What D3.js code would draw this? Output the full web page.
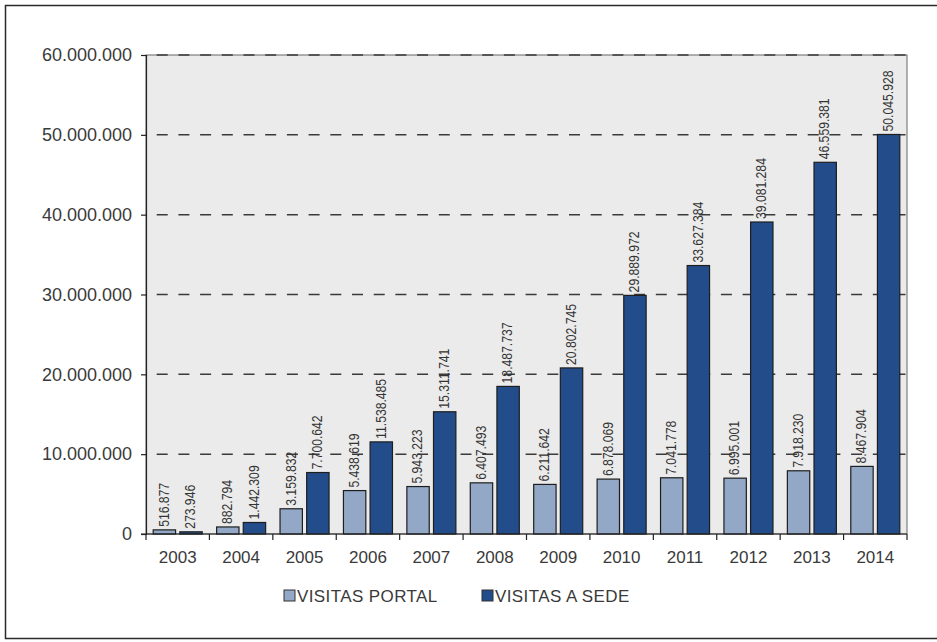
<!DOCTYPE html>
<html><head><meta charset="utf-8">
<script src="https://cdn.jsdelivr.net/npm/d3@7"></script>
<style>html,body{margin:0;padding:0;background:#fff;}svg{display:block;font-family:"Liberation Sans",Arial,sans-serif;}</style>
</head><body>
<svg id="chart" width="937" height="642"></svg>
<script>
const years = ["2003","2004","2005","2006","2007","2008","2009","2010","2011","2012","2013","2014"];
const seriesNames = ["VISITAS PORTAL","VISITAS A SEDE"];
const visitasPortal = [516877, 882794, 3159832, 5438619, 5943223, 6407493, 6211642, 6878069, 7041778, 6995001, 7918230, 8467904];
const visitasSede = [273946, 1442309, 7700642, 11538485, 15311741, 18487737, 20802745, 29889972, 33627384, 39081284, 46559381, 50045928];
const yTicks = [0, 10000000, 20000000, 30000000, 40000000, 50000000, 60000000];
const colors = ["#93a7c6", "#234c8a"];

const loc = d3.formatLocale({decimal: ",", thousands: ".", grouping: [3], currency: ["", ""]});
const fmt = loc.format(",d");

const svg = d3.select("#chart");
const L = 146, R = 907, T = 55, B = 534;

svg.append("rect").attr("x", 5.5).attr("y", 5.5).attr("width", 940).attr("height", 633)
  .attr("fill", "none").attr("stroke", "#2a2a2a").attr("stroke-width", 1.5);

const x0 = d3.scaleBand().domain(years).range([L, R]).padding(0);
const x1 = d3.scaleBand().domain(seriesNames).range([7.2, x0.bandwidth() - 7.2]).paddingInner(0.16).paddingOuter(0);
const y = d3.scaleLinear().domain([0, 60000000]).range([B, T]);

// plot background
svg.append("rect").attr("x", L).attr("y", T).attr("width", R - L).attr("height", B - T)
  .attr("fill", "#ebebeb").attr("stroke", "#666").attr("stroke-width", 1);

// gridlines
svg.append("g").selectAll("line").data(yTicks.filter(d => d > 0)).join("line")
  .attr("x1", L).attr("x2", R).attr("y1", d => y(d)).attr("y2", d => y(d))
  .attr("stroke", "#3a3a3a").attr("stroke-width", 1.5)
  .attr("stroke-dasharray", "11,10.7").attr("stroke-dashoffset", 11);

// bars
const data = years.map((yr, i) => ({year: yr, vals: [visitasPortal[i], visitasSede[i]]}));
const groups = svg.append("g").selectAll("g").data(data).join("g")
  .attr("transform", d => `translate(${x0(d.year)},0)`);
groups.selectAll("rect").data(d => d.vals.map((v, j) => ({name: seriesNames[j], v, j}))).join("rect")
  .attr("x", d => x1(d.name)).attr("width", x1.bandwidth())
  .attr("y", d => y(d.v)).attr("height", d => y(0) - y(d.v))
  .attr("fill", d => colors[d.j]).attr("stroke", "#1e1e1e").attr("stroke-width", 1.2);

// bar labels
groups.selectAll("text").data(d => d.vals.map((v, j) => ({name: seriesNames[j], v, j}))).join("text")
  .attr("transform", d => `translate(${x1(d.name) + x1.bandwidth() / 2 - 0.5},${y(d.v) - 3}) rotate(-90) scale(0.87,1)`)
  .attr("dominant-baseline", "central")
  .attr("font-size", 14).attr("fill", "#333")
  .text(d => fmt(d.v));

// y axis
const yAxis = d3.axisLeft(y).tickValues(yTicks).tickSize(5).tickPadding(9).tickFormat(d => fmt(d));
const gy = svg.append("g").attr("transform", `translate(${L},0)`).call(yAxis);
gy.select(".domain").attr("stroke", "#222").attr("stroke-width", 1.2);
gy.selectAll(".tick line").attr("stroke", "#222").attr("stroke-width", 1.2);
gy.selectAll(".tick text").attr("font-size", 18).attr("fill", "#3a3a3a").attr("font-family", "Liberation Sans, Arial, sans-serif");

// x axis
const gx = svg.append("g").attr("transform", `translate(0,${B})`);
gx.append("line").attr("x1", L - 5).attr("x2", R).attr("y1", 0).attr("y2", 0).attr("stroke", "#222").attr("stroke-width", 1.2);
const bounds = years.map(yr => x0(yr)).concat([R]);
gx.selectAll("line.tk").data(bounds).join("line").attr("class", "tk")
  .attr("x1", d => d).attr("x2", d => d).attr("y1", 0).attr("y2", 6)
  .attr("stroke", "#222").attr("stroke-width", 1.2);
gx.selectAll("text").data(years).join("text")
  .attr("x", d => x0(d) + x0.bandwidth() / 2).attr("y", 29)
  .attr("text-anchor", "middle").attr("font-size", 17).attr("fill", "#3a3a3a")
  .text(d => d);

// legend
const legendX = [284, 482];
const lg = svg.append("g").selectAll("g").data(seriesNames).join("g")
  .attr("transform", (d, i) => `translate(${legendX[i]},590)`);
lg.append("rect").attr("width", 11).attr("height", 11).attr("y", 0)
  .attr("fill", (d, i) => colors[i]).attr("stroke", "#333").attr("stroke-width", 1);
lg.append("text").attr("x", 13).attr("y", 11.5).attr("font-size", 17).attr("letter-spacing", 0.4)
  .attr("fill", "#3a3a3a").text(d => d);
</script>
</body></html>
